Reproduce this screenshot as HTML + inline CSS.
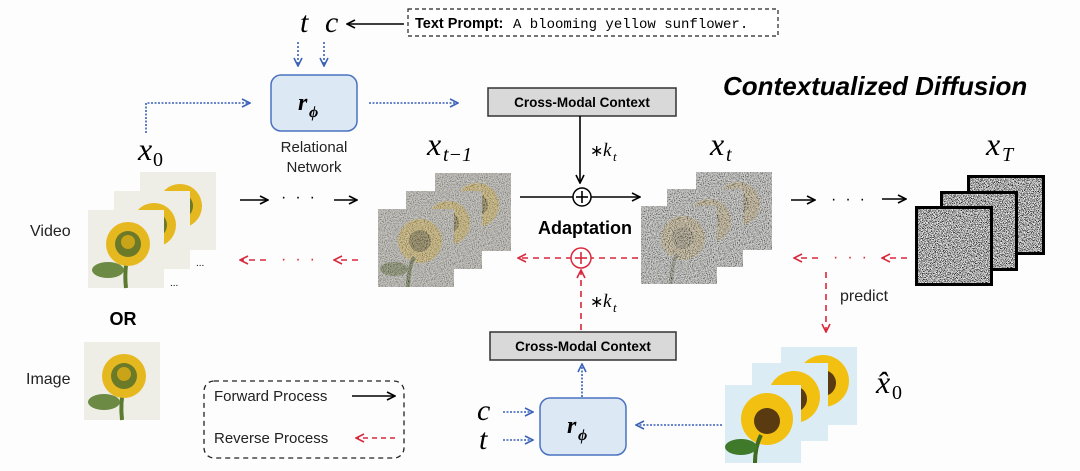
<!DOCTYPE html>
<html><head><style>
html,body{margin:0;padding:0;background:#fdfdfd;}
svg{display:block}
text{font-family:"Liberation Sans",sans-serif;}
.m{font-family:"Liberation Serif",serif;font-style:italic;}
</style></head><body>
<svg width="1080" height="471" viewBox="0 0 1080 471" xmlns="http://www.w3.org/2000/svg">
<defs>
<filter id="noise" x="0" y="0" width="100%" height="100%">
<feTurbulence type="fractalNoise" baseFrequency="0.95" numOctaves="2" seed="3"/>
<feColorMatrix type="matrix" values="2.2 0 0 0 -0.6  2.2 0 0 0 -0.6  2.2 0 0 0 -0.6  0 0 0 0 1"/>
</filter>
<filter id="noise2" x="0" y="0" width="100%" height="100%">
<feTurbulence type="fractalNoise" baseFrequency="1.2" numOctaves="1" seed="7"/>
<feColorMatrix type="matrix" values="3.5 0 0 0 -1.3  3.5 0 0 0 -1.3  3.5 0 0 0 -1.3  0 0 0 0 1"/>
</filter>
<marker id="ab" markerWidth="10" markerHeight="10" refX="9" refY="5" orient="auto" markerUnits="userSpaceOnUse"><path d="M1,1 L9,5 L1,9" fill="none" stroke="#000" stroke-width="1.6"/></marker>
<marker id="ar" markerWidth="10" markerHeight="10" refX="9" refY="5" orient="auto" markerUnits="userSpaceOnUse"><path d="M1,1 L9,5 L1,9" fill="none" stroke="#d9283c" stroke-width="1.6"/></marker>
<marker id="au" markerWidth="10" markerHeight="10" refX="9" refY="5" orient="auto" markerUnits="userSpaceOnUse"><path d="M1,1 L9,5 L1,9" fill="none" stroke="#3a62b8" stroke-width="1.6"/></marker>
<g id="sf">
<rect x="0" y="0" width="76" height="78" fill="#efeee6"/>
<path d="M38,78 Q36,60 40,45" stroke="#5a7a30" stroke-width="4" fill="none"/>
<ellipse cx="20" cy="60" rx="16" ry="8" fill="#6d8a45"/>
<circle cx="40" cy="34" r="22" fill="#e6b820"/>
<circle cx="40" cy="34" r="13" fill="#6a7a28"/>
<circle cx="40" cy="32" r="7" fill="#c9a318"/>
</g>
<g id="sfb">
<rect x="0" y="0" width="76" height="78" fill="#dcecf4"/>
<circle cx="42" cy="34" r="26" fill="#f2c010"/>
<circle cx="42" cy="36" r="13" fill="#5a3a10"/>
<path d="M30,78 Q30,62 36,50" stroke="#3f6a20" stroke-width="4" fill="none"/>
<ellipse cx="16" cy="62" rx="16" ry="8" fill="#3f7a2a"/>
</g>
<g id="nsf">
<rect x="0" y="0" width="76" height="78" fill="#b0aea6"/>
<circle cx="42" cy="32" r="22" fill="#c4a850" opacity="0.85"/>
<circle cx="42" cy="32" r="11" fill="#6b6030" opacity="0.85"/>
<path d="M30,78 Q30,60 36,48" stroke="#5f6a40" stroke-width="4" fill="none"/>
<ellipse cx="16" cy="60" rx="14" ry="7" fill="#707a50"/>
<rect x="0" y="0" width="76" height="78" filter="url(#noise)" opacity="0.4"/>
</g>
<g id="nsf2">
<rect x="0" y="0" width="76" height="78" fill="#a9a9a4"/>
<circle cx="42" cy="32" r="22" fill="#b09040" opacity="0.65"/>
<circle cx="42" cy="32" r="11" fill="#66593a" opacity="0.65"/>
<path d="M30,78 Q30,60 36,48" stroke="#666650" stroke-width="4" fill="none"/>
<rect x="0" y="0" width="76" height="78" filter="url(#noise)" opacity="0.6"/>
</g>
<g id="nz">
<rect x="0" y="0" width="78" height="80" fill="#777" filter="url(#noise2)"/>
<rect x="1.5" y="1.5" width="75" height="77" fill="none" stroke="#000" stroke-width="3"/>
</g>
</defs>

<text x="723" y="95" font-size="26" font-weight="bold" font-style="italic">Contextualized Diffusion</text>

<rect x="408" y="9" width="370" height="27" fill="#fff" stroke="#222" stroke-width="1.2" stroke-dasharray="4,3"/>
<text x="415" y="28" font-size="14.5" font-weight="bold">Text Prompt:</text>
<text x="513" y="28" font-size="14" style="font-family:'Liberation Mono',monospace">A blooming yellow sunflower.</text>
<line x1="404" y1="24" x2="347" y2="24" stroke="#000" stroke-width="1.6" marker-end="url(#ab)"/>
<text class="m" x="300" y="32" font-size="30">t</text>
<text class="m" x="325" y="32" font-size="30">c</text>
<line x1="298" y1="42" x2="298" y2="66" stroke="#3a62b8" stroke-width="1.6" stroke-dasharray="2,2" marker-end="url(#au)"/>
<line x1="324" y1="42" x2="324" y2="66" stroke="#3a62b8" stroke-width="1.6" stroke-dasharray="2,2" marker-end="url(#au)"/>

<rect x="271" y="75" width="86" height="56" rx="10" fill="#dde8f5" stroke="#4a72c0" stroke-width="1.5"/>
<text x="298" y="110" font-size="24" font-weight="bold" font-style="italic" style="font-family:'Liberation Serif',serif">r</text>
<text x="309" y="117" font-size="16" font-weight="bold" font-style="italic" style="font-family:'Liberation Serif',serif">ϕ</text>
<text x="314" y="152" font-size="15" text-anchor="middle" fill="#222">Relational</text>
<text x="314" y="172" font-size="15" text-anchor="middle" fill="#222">Network</text>
<polyline points="146,133 146,103 250,103" fill="none" stroke="#3a62b8" stroke-width="1.6" stroke-dasharray="2,1.5" marker-end="url(#au)"/>
<line x1="369" y1="103" x2="458" y2="103" stroke="#3a62b8" stroke-width="1.6" stroke-dasharray="2,1.5" marker-end="url(#au)"/>
<text class="m" x="138" y="160" font-size="32">x</text><text x="153" y="166" font-size="20" style="font-family:'Liberation Serif',serif">0</text>

<rect x="488" y="88" width="188" height="28" fill="#d9d9d9" stroke="#333" stroke-width="1.5"/>
<text x="582" y="107" font-size="13.5" font-weight="bold" text-anchor="middle">Cross-Modal Context</text>
<line x1="580" y1="116" x2="580" y2="183" stroke="#000" stroke-width="1.6" marker-end="url(#ab)"/>
<text x="590" y="156" font-size="16">∗</text><text class="m" x="603" y="156" font-size="19">k</text><text class="m" x="613" y="161" font-size="13">t</text>

<text class="m" x="427" y="155" font-size="32">x</text><text class="m" x="443" y="161" font-size="20">t−1</text>
<text class="m" x="710" y="155" font-size="32">x</text><text class="m" x="726" y="161" font-size="20">t</text>
<text class="m" x="986" y="155" font-size="32">x</text><text class="m" x="1002" y="161" font-size="20">T</text>

<line x1="520" y1="197" x2="640" y2="197" stroke="#000" stroke-width="1.6" marker-end="url(#ab)"/>
<circle cx="582" cy="197" r="9" fill="#fff" stroke="#000" stroke-width="1.5"/>
<line x1="576" y1="197" x2="588" y2="197" stroke="#000" stroke-width="1.6"/><line x1="582" y1="191" x2="582" y2="203" stroke="#000" stroke-width="1.6"/>
<text x="585" y="234" font-size="18" font-weight="bold" text-anchor="middle">Adaptation</text>
<line x1="638" y1="258" x2="518" y2="258" stroke="#d9283c" stroke-width="1.6" stroke-dasharray="6,5" marker-end="url(#ar)"/>
<circle cx="581" cy="258" r="10" fill="#fff" stroke="#d9283c" stroke-width="1.5"/>
<line x1="575" y1="258" x2="587" y2="258" stroke="#d9283c" stroke-width="1.6"/><line x1="581" y1="252" x2="581" y2="264" stroke="#d9283c" stroke-width="1.6"/>
<line x1="581" y1="330" x2="581" y2="270" stroke="#d9283c" stroke-width="1.6" stroke-dasharray="6,5" marker-end="url(#ar)"/>
<text x="590" y="307" font-size="16">∗</text><text class="m" x="603" y="307" font-size="19">k</text><text class="m" x="613" y="312" font-size="13">t</text>

<rect x="490" y="332" width="186" height="28" fill="#d9d9d9" stroke="#333" stroke-width="1.5"/>
<text x="583" y="351" font-size="13.5" font-weight="bold" text-anchor="middle">Cross-Modal Context</text>
<line x1="582" y1="397" x2="582" y2="364" stroke="#3a62b8" stroke-width="1.6" stroke-dasharray="2,1.5" marker-end="url(#au)"/>
<rect x="540" y="398" width="86" height="57" rx="10" fill="#dde8f5" stroke="#4a72c0" stroke-width="1.5"/>
<text x="567" y="433" font-size="24" font-weight="bold" font-style="italic" style="font-family:'Liberation Serif',serif">r</text>
<text x="578" y="440" font-size="16" font-weight="bold" font-style="italic" style="font-family:'Liberation Serif',serif">ϕ</text>
<text class="m" x="477" y="420" font-size="30">c</text>
<text class="m" x="479" y="449" font-size="30">t</text>
<line x1="503" y1="412" x2="533" y2="412" stroke="#3a62b8" stroke-width="1.6" stroke-dasharray="2,1.5" marker-end="url(#au)"/>
<line x1="503" y1="440" x2="533" y2="440" stroke="#3a62b8" stroke-width="1.6" stroke-dasharray="2,1.5" marker-end="url(#au)"/>
<line x1="722" y1="425" x2="636" y2="425" stroke="#3a62b8" stroke-width="1.6" stroke-dasharray="2,1.5" marker-end="url(#au)"/>

<text x="30" y="236" font-size="16" fill="#222">Video</text>
<use href="#sf" transform="translate(140,172)"/>
<use href="#sf" transform="translate(114,191)"/>
<use href="#sf" transform="translate(88,210)"/>
<text x="170" y="286" font-size="10">...</text><text x="196" y="266" font-size="10">...</text>
<line x1="240" y1="200" x2="268" y2="200" stroke="#000" stroke-width="1.6" marker-end="url(#ab)"/>
<text x="281" y="202" font-size="16" letter-spacing="9">···</text>
<line x1="334" y1="200" x2="357" y2="200" stroke="#000" stroke-width="1.6" marker-end="url(#ab)"/>
<line x1="266" y1="260" x2="240" y2="260" stroke="#d9283c" stroke-width="1.6" stroke-dasharray="6,5" marker-end="url(#ar)"/>
<text x="281" y="264" font-size="16" fill="#d9283c" letter-spacing="9">···</text>
<line x1="358" y1="260" x2="334" y2="260" stroke="#d9283c" stroke-width="1.6" stroke-dasharray="6,5" marker-end="url(#ar)"/>
<text x="123" y="325" font-size="18" font-weight="bold" text-anchor="middle">OR</text>
<text x="26" y="384" font-size="16" fill="#222">Image</text>
<use href="#sf" transform="translate(84,342)"/>

<rect x="204" y="381" width="200" height="77" rx="10" fill="none" stroke="#222" stroke-width="1.3" stroke-dasharray="5,4"/>
<text x="214" y="401" font-size="15" fill="#222">Forward Process</text>
<line x1="352" y1="396" x2="395" y2="396" stroke="#000" stroke-width="1.6" marker-end="url(#ab)"/>
<text x="214" y="443" font-size="15" fill="#222">Reverse Process</text>
<line x1="395" y1="438" x2="356" y2="438" stroke="#d9283c" stroke-width="1.6" stroke-dasharray="5,4" marker-end="url(#ar)"/>

<use href="#nsf" transform="translate(435,173)"/>
<use href="#nsf" transform="translate(406,191)"/>
<use href="#nsf" transform="translate(378,209)"/>

<use href="#nsf2" transform="translate(696,172)"/>
<use href="#nsf2" transform="translate(667,189)"/>
<use href="#nsf2" transform="translate(641,206)"/>

<line x1="791" y1="200" x2="815" y2="200" stroke="#000" stroke-width="1.6" marker-end="url(#ab)"/>
<text x="831" y="204" font-size="16" letter-spacing="9">···</text>
<line x1="882" y1="199" x2="906" y2="199" stroke="#000" stroke-width="1.6" marker-end="url(#ab)"/>
<line x1="818" y1="258" x2="794" y2="258" stroke="#d9283c" stroke-width="1.6" stroke-dasharray="6,5" marker-end="url(#ar)"/>
<text x="833" y="262" font-size="16" fill="#d9283c" letter-spacing="9">···</text>
<line x1="907" y1="258" x2="882" y2="258" stroke="#d9283c" stroke-width="1.6" stroke-dasharray="6,5" marker-end="url(#ar)"/>
<line x1="826" y1="272" x2="826" y2="332" stroke="#d9283c" stroke-width="1.6" stroke-dasharray="6,5" marker-end="url(#ar)"/>
<text x="840" y="301" font-size="16" fill="#222">predict</text>

<use href="#nz" transform="translate(967,175)"/>
<use href="#nz" transform="translate(940,191)"/>
<use href="#nz" transform="translate(915,206)"/>

<use href="#sfb" transform="translate(781,347)"/>
<use href="#sfb" transform="translate(752,363)"/>
<use href="#sfb" transform="translate(725,385)"/>
<text class="m" x="876" y="393" font-size="32">x̂</text><text x="892" y="399" font-size="20" style="font-family:'Liberation Serif',serif">0</text>
</svg>
</body></html>
